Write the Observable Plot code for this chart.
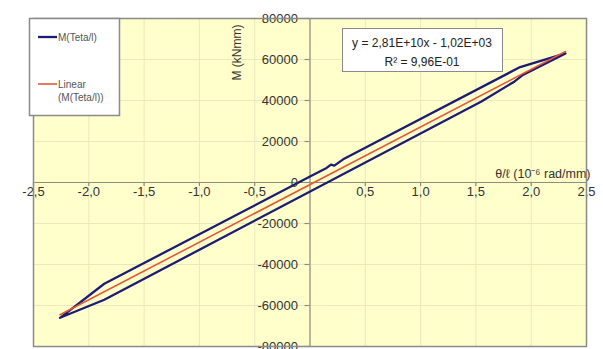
<!DOCTYPE html>
<html>
<head>
<meta charset="utf-8">
<script src="https://cdn.jsdelivr.net/npm/d3@7"></script>
<script src="https://cdn.jsdelivr.net/npm/@observablehq/plot@0.6"></script>
<style>
  html, body { margin: 0; padding: 0; background: #ffffff; }
  #chart { width: 603px; height: 349px; overflow: hidden; }
</style>
</head>
<body>
<div id="chart"></div>
<script>
// ---- data ----
// hysteresis loop M(Teta/l): x in 10^-6 rad/mm, M in kNmm
const loopX = [-2.26, -1.86, 0.00, 0.15, 0.19, 0.22, 0.30, 1.90, 2.31,
               1.92, 1.85, 1.55, -1.86, -2.26];
const loopM = [-66000, -49400, 2900, 7100, 8700, 8200, 11300, 56300, 63000,
               52300, 49300, 39500, -57200, -66000];

// linear trendline shown in the chart: y = 2,81E+10x - 1,02E+03  (in plot units: 28100 per 10^-6 rad/mm)
const fitSlope = 28100;
const fitIntercept = -1020;
const fitText = ["y = 2,81E+10x - 1,02E+03", "R² = 9,96E-01"];

const xTicks = [-2.5, -2, -1.5, -1, -0.5, 0.5, 1, 1.5, 2, 2.5];
const xTickLabels = ["-2,5", "-2,0", "-1,5", "-1,0", "-0,5", "0,5", "1,0", "1,5", "2,0", "2,5"];
const xGrid = [-2.5, -2, -1.5, -1, -0.5, 0, 0.5, 1, 1.5, 2, 2.5];
const yTicks = [80000, 60000, 40000, 20000, 0, -20000, -40000, -60000, -80000];
const yTickLabels = ["80000", "60000", "40000", "20000", "0", "-20000", "-40000", "-60000", "-80000"];

const xTitle = "θ/ℓ (10⁻⁶ rad/mm)";
const yTitle = "M (kNmm)";
const seriesName = "M(Teta/l)";
const fitNameLines = ["Linear", "(M(Teta/l))"];

// ---- build ----
const loop = loopX.map((x, i) => ({x, y: loopM[i]}));
const xMin = d3.min(loopX), xMax = d3.max(loopX);
const fitLine = [xMin, xMax].map(x => ({x, y: fitSlope * x + fitIntercept}));
const xLab = xTicks.map((x, i) => ({x, t: xTickLabels[i]}));
const yLab = yTicks.map((y, i) => ({y, t: yTickLabels[i]}));

const navy = "#1c1c72";
const red = "#e2583c";
const axisColor = "#8e8e7c";
const gridColor = "#ebe8bd";
const font = "'Liberation Sans', Arial, sans-serif";

const plot = Plot.plot({
  width: 603,
  height: 349,
  marginLeft: 33,
  marginRight: 17,
  marginTop: 18,
  marginBottom: 3,
  x: {domain: [-2.5, 2.5], axis: null},
  y: {domain: [-80000, 80000], axis: null},
  style: {fontFamily: font, background: "#ffffff", overflow: "visible"},
  marks: [
    Plot.frame({fill: "#ffffcc", stroke: null}),
    Plot.ruleX(xGrid, {stroke: gridColor, strokeWidth: 1}),
    Plot.ruleY(yTicks, {stroke: gridColor, strokeWidth: 1}),
    Plot.ruleX([0], {stroke: axisColor, strokeWidth: 1.2}),
    Plot.ruleY([0], {stroke: axisColor, strokeWidth: 1.2}),
    Plot.ruleY(yTicks, {x1: 0, x2: 0, insetLeft: -5, stroke: axisColor, strokeWidth: 1.2}),
    Plot.ruleX(xTicks, {y1: 0, y2: 0, insetBottom: -4, stroke: axisColor, strokeWidth: 1.2}),
    Plot.line(loop, {x: "x", y: "y", stroke: navy, strokeWidth: 2.3, curve: "linear", strokeLinejoin: "round"}),
    Plot.line(fitLine, {x: "x", y: "y", stroke: red, strokeWidth: 1.6}),
    Plot.text(xLab, {x: "x", y: 0, text: "t", dy: 9, fontSize: 13, fill: "#333", textAnchor: "middle", lineAnchor: "middle"}),
    Plot.text(yLab, {x: 0, y: "y", text: "t", dx: -12, fontSize: 13, fill: "#333", textAnchor: "end", lineAnchor: "middle"}),
    Plot.text([xTitle], {x: 2.5, y: 0, text: d => d, dx: 4, dy: -9, fontSize: 12.5, fill: "#333", textAnchor: "end", lineAnchor: "middle"}),
    Plot.text([yTitle], {x: 0, y: 80000, text: d => d, dx: -73, dy: 34, rotate: -90, fontSize: 12, fill: "#333", textAnchor: "middle", lineAnchor: "middle"}),
    Plot.frame({stroke: "#8a8a8a", strokeWidth: 1.5})
  ]
});

document.getElementById("chart").appendChild(plot);

// ---- legend box (top-left, overlapping plot area) ----
const svg = d3.select(plot);
const lg = svg.append("g").attr("font-family", font).attr("text-anchor", "start");
lg.append("rect").attr("x", 29.5).attr("y", 18.5).attr("width", 90).attr("height", 97)
  .attr("fill", "#ffffff").attr("stroke", "#8a8a8a").attr("stroke-width", 1.5);
lg.append("line").attr("x1", 38).attr("x2", 57).attr("y1", 37).attr("y2", 37)
  .attr("stroke", navy).attr("stroke-width", 2.3);
lg.append("text").attr("x", 58).attr("y", 37).attr("dy", "0.35em").attr("font-size", 10).attr("fill", "#555")
  .text(seriesName);
lg.append("line").attr("x1", 38).attr("x2", 57).attr("y1", 84).attr("y2", 84)
  .attr("stroke", red).attr("stroke-width", 1.6);
fitNameLines.forEach((s, i) => {
  lg.append("text").attr("x", 58).attr("y", 84 + i * 13).attr("dy", "0.35em").attr("font-size", 10).attr("fill", "#555").text(s);
});

// ---- trendline equation box ----
const eg = svg.append("g").attr("font-family", font);
eg.append("rect").attr("x", 342.5).attr("y", 28.5).attr("width", 160).attr("height", 43)
  .attr("fill", "#ffffff").attr("stroke", "#8a8a8a").attr("stroke-width", 1);
fitText.forEach((s, i) => {
  eg.append("text").attr("x", 422).attr("y", 43 + i * 19).attr("dy", "0.35em").attr("text-anchor", "middle")
    .attr("font-size", 12).attr("fill", "#222").text(s);
});
</script>
</body>
</html>
